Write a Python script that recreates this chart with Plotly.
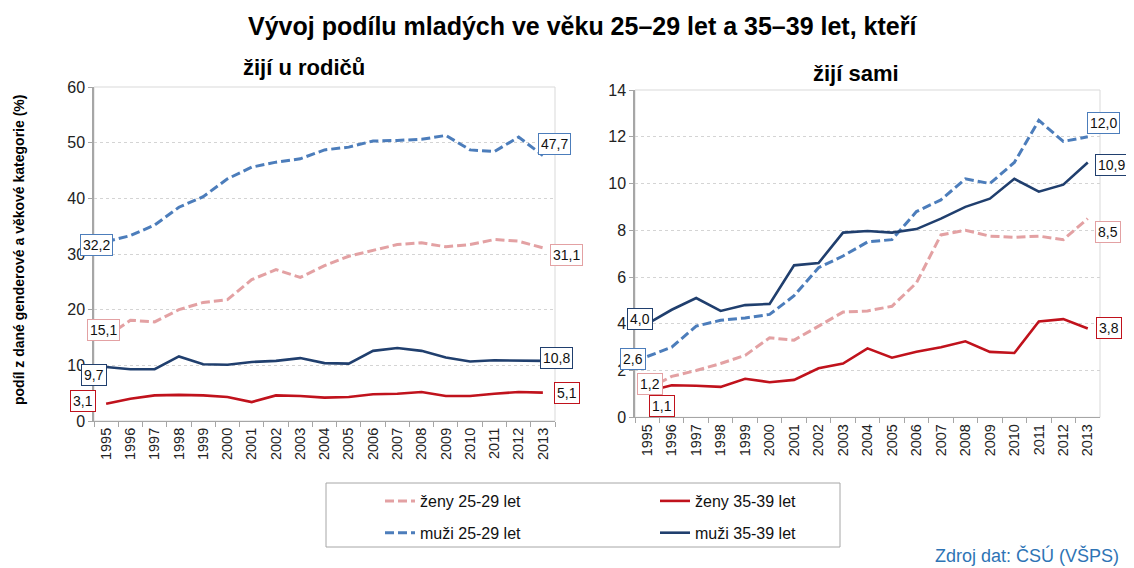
import plotly.graph_objects as go
from plotly.subplots import make_subplots

years = [str(y) for y in range(1995, 2014)]

# --- žijí u rodičů (left panel) ---
rod_zeny_25 = [15.1, 18.1, 17.8, 20.0, 21.3, 21.8, 25.4, 27.2, 25.8, 27.9, 29.6, 30.6, 31.7, 32.0, 31.3, 31.7, 32.6, 32.3, 31.1]
rod_zeny_35 = [3.1, 4.0, 4.6, 4.7, 4.6, 4.3, 3.4, 4.6, 4.5, 4.2, 4.3, 4.8, 4.9, 5.2, 4.5, 4.5, 4.9, 5.2, 5.1]
rod_muzi_25 = [32.2, 33.3, 35.2, 38.4, 40.3, 43.5, 45.6, 46.5, 47.1, 48.7, 49.2, 50.3, 50.4, 50.6, 51.3, 48.7, 48.4, 51.0, 47.7]
rod_muzi_35 = [9.7, 9.3, 9.3, 11.6, 10.2, 10.1, 10.6, 10.8, 11.3, 10.4, 10.3, 12.6, 13.1, 12.6, 11.4, 10.7, 10.9, 10.8, 10.8]

# --- žijí sami (right panel) ---
sam_zeny_25 = [1.2, 1.75, 2.0, 2.3, 2.65, 3.4, 3.3, 3.9, 4.5, 4.55, 4.75, 5.75, 7.8, 8.0, 7.75, 7.7, 7.75, 7.6, 8.5]
sam_zeny_35 = [1.1, 1.37, 1.35, 1.3, 1.65, 1.5, 1.6, 2.1, 2.3, 2.95, 2.55, 2.8, 3.0, 3.25, 2.8, 2.75, 4.1, 4.2, 3.8]
sam_muzi_25 = [2.6, 3.0, 3.9, 4.15, 4.25, 4.4, 5.2, 6.4, 6.9, 7.5, 7.6, 8.8, 9.3, 10.2, 10.0, 10.9, 12.7, 11.8, 12.0]
sam_muzi_35 = [4.0, 4.6, 5.1, 4.55, 4.8, 4.85, 6.5, 6.6, 7.9, 7.97, 7.9, 8.05, 8.5, 9.0, 9.35, 10.2, 9.65, 9.95, 10.9]

series_names = ["ženy 25-29 let", "ženy 35-39 let", "muži 25-29 let", "muži 35-39 let"]
left_series = [rod_zeny_25, rod_zeny_35, rod_muzi_25, rod_muzi_35]
right_series = [sam_zeny_25, sam_zeny_35, sam_muzi_25, sam_muzi_35]

colors = ["#E3A1A3", "#C0121C", "#4C7DBB", "#203F6E"]
dashes = ["9px,4px", "solid", "9px,4px", "solid"]
widths = [3, 2.6, 3, 2.6]
legend_ids = ["legend", "legend2", "legend", "legend2"]

# label offsets (dx px, dy px, positive dy = up) for first / last points
left_first_off = [(-3, 7), (-23, 3), (-10, -3), (-12, -8)]
left_last_off = [(24, -7), (24, 0), (12, 11), (14, 3)]
right_first_off = [(3, 5), (15, -14), (-14, -2), (-7, 5)]
right_last_off = [(20, -13), (21, 0), (16, 14), (24, -3)]

FONT = "Liberation Sans, Arial, sans-serif"

fig = make_subplots(rows=1, cols=2)

for i, name in enumerate(series_names):
    for col, data in ((1, left_series[i]), (2, right_series[i])):
        fig.add_trace(go.Scatter(
            x=years, y=data, mode="lines", name=name,
            line=dict(color=colors[i], width=widths[i], dash=dashes[i]),
            legendgroup=name, showlegend=(col == 1), legend=legend_ids[i],
            hoverinfo="x+y",
        ), row=1, col=col)

def fmt(v):
    return f"{v:.1f}".replace(".", ",")

annotations = []
for col, series, first_off, last_off in ((1, left_series, left_first_off, left_last_off),
                                          (2, right_series, right_first_off, right_last_off)):
    xr = "x" if col == 1 else "x2"
    yr = "y" if col == 1 else "y2"
    for i, data in enumerate(series):
        for idx, off in ((0, first_off[i]), (len(years) - 1, last_off[i])):
            annotations.append(dict(
                x=idx, y=data[idx], xref=xr, yref=yr,
                text=fmt(data[idx]), showarrow=False,
                xshift=off[0], yshift=off[1],
                font=dict(family=FONT, size=14, color="#111"),
                bgcolor="white", bordercolor=colors[i], borderwidth=1, borderpad=2,
            ))

# page offset: the html body has an 8px margin
W, H = 1134, 568
OFF = 8
def px(x):
    return (x - OFF) / W
def py(y):
    return 1 - (y - OFF) / H

annotations += [
    dict(text="<b>Vývoj podílu mladých ve věku 25–29 let a 35–39 let, kteří</b>",
         x=px(582), y=py(26), xref="paper", yref="paper", showarrow=False,
         xanchor="center", yanchor="middle",
         font=dict(family=FONT, size=25, color="#000")),
    dict(text="<b>žijí u rodičů</b>", x=px(304), y=py(68), xref="paper", yref="paper",
         xanchor="center", yanchor="middle",
         showarrow=False, font=dict(family=FONT, size=22, color="#000")),
    dict(text="<b>žijí sami</b>", x=px(856), y=py(73), xref="paper", yref="paper",
         xanchor="center", yanchor="middle",
         showarrow=False, font=dict(family=FONT, size=22, color="#000")),
    dict(text="<b>podíl z dané genderové a věkové kategorie (%)</b>", x=px(19), y=py(250),
         xref="paper", yref="paper", showarrow=False, textangle=-90,
         xanchor="center", yanchor="middle",
         font=dict(family=FONT, size=14, color="#000")),
    dict(text="Zdroj dat: ČSÚ (VŠPS)", x=px(1121), y=py(555), xref="paper", yref="paper",
         xanchor="right", yanchor="middle", showarrow=False,
         font=dict(family=FONT, size=18, color="#2E74B5")),
]

axis_font = dict(family=FONT, size=16, color="#222")
xfont = dict(family=FONT, size=14.5, color="#222")
common_x = dict(type="category", range=[-0.5, len(years) - 0.5], tickson="boundaries",
                ticks="outside", ticklen=5, tickcolor="#A6A6A6", tickangle=-90,
                tickfont=xfont, showline=True, linecolor="#A6A6A6", linewidth=1,
                showgrid=False, zeroline=False, fixedrange=True, automargin=False)
common_y = dict(showline=True, linecolor="#A6A6A6", linewidth=1.5, ticks="outside",
                ticklen=4, tickcolor="#A6A6A6", tickfont=axis_font, showgrid=True,
                gridcolor="#D4D4D4", griddash="3px,3px", gridwidth=1, zeroline=False,
                fixedrange=True, automargin=False)

fig.update_xaxes(**common_x)
fig.update_yaxes(**common_y)
fig.update_layout(
    xaxis=dict(domain=[px(94), px(555)]),
    xaxis2=dict(domain=[px(635), px(1100)]),
    yaxis=dict(domain=[py(421), py(87)], range=[0, 60], dtick=10),
    yaxis2=dict(domain=[py(417.3), py(90)], range=[0, 14], dtick=2),
)

shapes = [
    dict(type="rect", xref="x domain", yref="y domain", x0=0, x1=1, y0=0, y1=1,
         line=dict(color="#D9D9D9", width=1), layer="below"),
    dict(type="rect", xref="x2 domain", yref="y2 domain", x0=0, x1=1, y0=0, y1=1,
         line=dict(color="#D9D9D9", width=1), layer="below"),
    dict(type="rect", xref="paper", yref="paper", x0=px(326), x1=px(840), y0=py(547), y1=py(483),
         line=dict(color="#A6A6A6", width=1), fillcolor="rgba(0,0,0,0)"),
]

leg_font = dict(family=FONT, size=16, color="#111")
fig.update_layout(
    width=W, height=H,
    margin=dict(l=0, r=0, t=0, b=0, autoexpand=False),
    paper_bgcolor="white", plot_bgcolor="white",
    annotations=annotations, shapes=shapes,
    legend=dict(x=px(380), y=py(484), xanchor="left", yanchor="top", orientation="v",
                font=leg_font, bgcolor="rgba(0,0,0,0)", borderwidth=0,
                tracegroupgap=8, itemwidth=30),
    legend2=dict(x=px(655), y=py(484), xanchor="left", yanchor="top", orientation="v",
                 font=leg_font, bgcolor="rgba(0,0,0,0)", borderwidth=0,
                 tracegroupgap=8, itemwidth=30),
)

fig.write_html("out.html")
